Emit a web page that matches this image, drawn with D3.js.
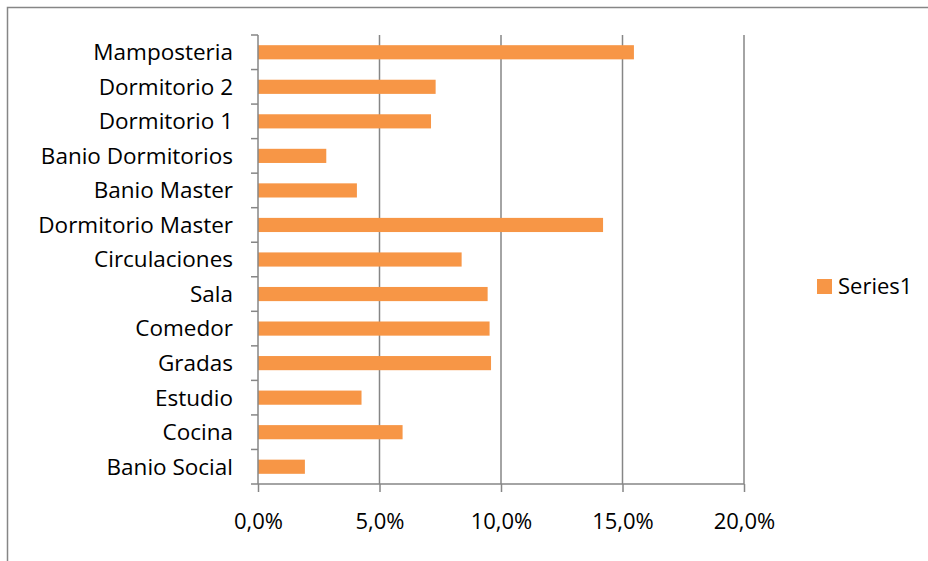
<!DOCTYPE html>
<html>
<head>
<meta charset="utf-8">
<script src="https://cdn.jsdelivr.net/npm/d3@7"></script>
<style>
  body { margin: 0; background: #fff; }
  text { font-family: "Open Sans", sans-serif; fill: #000; }
</style>
</head>
<body>
<div id="chart"></div>
<script>
// Data (top to bottom as drawn)
const categories = ["Mamposteria", "Dormitorio 2", "Dormitorio 1", "Banio Dormitorios",
  "Banio Master", "Dormitorio Master", "Circulaciones", "Sala", "Comedor", "Gradas",
  "Estudio", "Cocina", "Banio Social"];
const values = [0.1547, 0.0731, 0.0712, 0.0281, 0.0407, 0.142, 0.0838, 0.0945,
  0.0953, 0.0959, 0.0426, 0.0595, 0.0193];
const xTicks = [0, 0.05, 0.10, 0.15, 0.20];
const seriesName = "Series1";

const width = 928, height = 561;
const plot = { left: 258, right: 744, top: 35, bottom: 484 };
const barColor = "#f79646";
const axisColor = "#868686";

const svg = d3.select("#chart").append("svg")
  .attr("width", width)
  .attr("height", height);

// Outer chart border
svg.append("rect")
  .attr("x", 7.5).attr("y", 7.5)
  .attr("width", width).attr("height", height)
  .attr("fill", "none")
  .attr("stroke", axisColor)
  .attr("stroke-width", 1.5);

const x = d3.scaleLinear().domain([0, 0.2]).range([plot.left, plot.right]);
const y = d3.scaleBand().domain(categories).range([plot.top, plot.bottom]).paddingInner(0.59).paddingOuter(0.295);
const yEdges = d3.scaleLinear().domain([0, categories.length]).range([plot.top, plot.bottom]);

// Vertical gridlines
svg.append("g")
  .selectAll("line")
  .data(xTicks.slice(1))
  .join("line")
    .attr("x1", d => x(d)).attr("x2", d => x(d))
    .attr("y1", plot.top).attr("y2", plot.bottom)
    .attr("stroke", axisColor)
    .attr("stroke-width", 1.5);

// Bars
svg.append("g")
  .selectAll("rect")
  .data(categories)
  .join("rect")
    .attr("x", x(0))
    .attr("y", d => y(d))
    .attr("width", (d, i) => x(values[i]) - x(0))
    .attr("height", y.bandwidth())
    .attr("fill", barColor);

// X axis
const xAxis = svg.append("g")
  .attr("transform", `translate(0,${plot.bottom})`)
  .call(d3.axisBottom(x).tickValues(xTicks).tickSize(8).tickPadding(21)
    .tickFormat(d => d3.format(".1f")(d * 100).replace(".", ",") + "%"));
xAxis.select(".domain").attr("stroke", axisColor).attr("stroke-width", 1.5)
  .attr("d", `M${plot.left},0H${plot.right}`);
xAxis.selectAll(".tick line").attr("stroke", axisColor).attr("stroke-width", 1.5);
xAxis.selectAll(".tick text").style("font-size", "22px").attr("fill", "#000");

// Y axis line with ticks at category boundaries
const yAxis = svg.append("g").attr("transform", `translate(${plot.left},0)`);
yAxis.append("line")
  .attr("x1", 0).attr("x2", 0)
  .attr("y1", plot.top).attr("y2", plot.bottom)
  .attr("stroke", axisColor).attr("stroke-width", 1.5);
yAxis.selectAll(".edge")
  .data(d3.range(categories.length + 1))
  .join("line")
    .attr("class", "edge")
    .attr("x1", -7).attr("x2", 0)
    .attr("y1", d => yEdges(d)).attr("y2", d => yEdges(d))
    .attr("stroke", axisColor).attr("stroke-width", 1.5);

// Category labels
svg.append("g")
  .selectAll("text")
  .data(categories)
  .join("text")
    .attr("x", 233)
    .attr("y", d => y(d) + y.bandwidth() / 2)
    .attr("dy", "0.35em")
    .attr("text-anchor", "end")
    .style("font-size", "22.5px")
    .text(d => d);

// Legend
const legend = svg.append("g").attr("transform", "translate(817,279)");
legend.append("rect")
  .attr("width", 15).attr("height", 15)
  .attr("fill", barColor);
legend.append("text")
  .attr("x", 21).attr("y", 7.5)
  .attr("dy", "0.35em")
  .style("font-size", "22px")
  .text(seriesName);
</script>
</body>
</html>
